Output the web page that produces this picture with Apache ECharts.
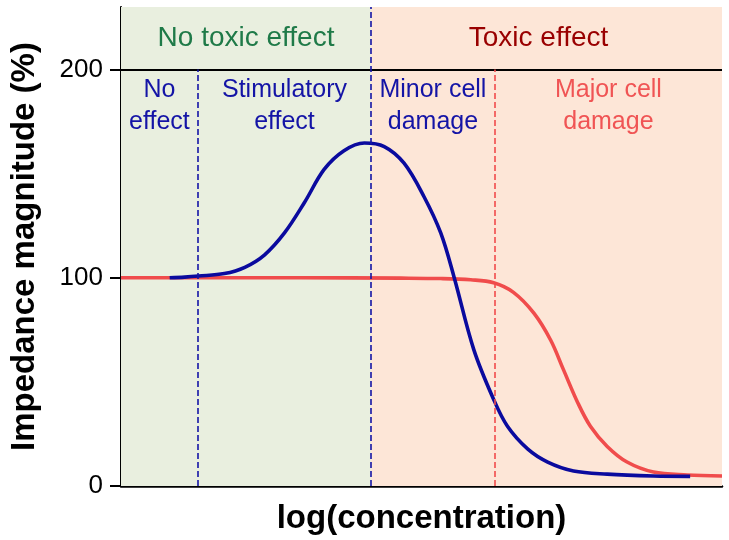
<!DOCTYPE html>
<html>
<head>
<meta charset="utf-8">
<script src="https://cdn.jsdelivr.net/npm/echarts@6/dist/echarts.min.js"></script>
<style>
html,body{margin:0;padding:0;background:#fff;}
#chart{width:729px;height:540px;}
</style>
</head>
<body>
<div id="chart"></div>
<script>
// log(concentration) in arbitrary units (0..10), impedance magnitude in %
var blueX = [0.81, 1.06, 1.29, 1.72, 2.06, 2.39, 2.72, 3.05, 3.38, 3.71, 4.05, 4.38, 4.71, 5.04, 5.32, 5.54, 5.87, 6.20, 6.43, 6.77, 7.10, 7.53, 8.09, 8.86, 9.47];
var blueY = [100, 100.3, 100.8, 102, 105, 111, 121.5, 136, 152, 161, 164.7, 163, 155, 139, 121.5, 100.5, 65.5, 41.6, 28.7, 17.7, 11.5, 7.2, 5.7, 4.8, 4.6];
var redX = [0, 1.34, 3.0, 4.66, 5.32, 5.82, 6.20, 6.53, 6.87, 7.15, 7.36, 7.60, 7.81, 8.09, 8.42, 8.86, 9.42, 10.0];
var redY = [100, 100, 100, 99.8, 99.6, 99, 97.6, 93, 83, 70, 56, 40, 28.7, 19, 11.5, 6.7, 5.3, 4.8];
var boundaries = [0, 1.28, 4.16, 6.22, 10];
var yTicks = [0, 100, 200];
var yMax = 230;
var xTitle = 'log(concentration)';
var yTitle = 'Impedance magnitude (%)';
var headerTexts = ['No toxic effect', 'Toxic effect'];
var subTexts = ['No\neffect', 'Stimulatory\neffect', 'Minor cell\ndamage', 'Major cell\ndamage'];
var headerY = 215;
var subY = 182.6;

var blueData = blueX.map(function (x, i) { return [x, blueY[i]]; });
var redData = redX.map(function (x, i) { return [x, redY[i]]; });

var FONT = '"Liberation Sans", Arial, sans-serif';
var navy = '#1414a6';
var red = '#f04c4c';

var headerColors = ['#1f7a48', '#990000'];
var subColors = [navy, navy, navy, '#f05454'];

var headerData = [
  { value: [(boundaries[0] + boundaries[2]) / 2, headerY], name: headerTexts[0], label: { color: headerColors[0] } },
  { value: [(boundaries[2] + boundaries[4]) / 2, headerY], name: headerTexts[1], label: { color: headerColors[1], offset: [-8, 0] } }
];
var subData = subTexts.map(function (t, i) {
  return { value: [(boundaries[i] + boundaries[i + 1]) / 2, subY], name: t, label: { color: subColors[i] } };
});

var chart = echarts.init(document.getElementById('chart'), null, { renderer: 'canvas' });
chart.setOption({
  animation: false,
  backgroundColor: '#ffffff',
  grid: { left: 119, right: 7, top: 7, bottom: 53, containLabel: false },
  xAxis: {
    type: 'value', min: boundaries[0], max: boundaries[4],
    axisLine: { show: true, onZero: false, lineStyle: { color: '#000', width: 2.5 } },
    axisTick: { show: false }, axisLabel: { show: false }, splitLine: { show: false },
    name: xTitle, nameLocation: 'middle', nameGap: 16,
    nameTextStyle: { fontFamily: FONT, fontWeight: 'bold', fontSize: 33, color: '#000' }
  },
  yAxis: {
    type: 'value', min: 0, max: yMax,
    axisLine: { show: true, onZero: false, lineStyle: { color: '#000', width: 2 } },
    axisTick: { show: true, length: 11, customValues: yTicks, lineStyle: { color: '#000', width: 2 } },
    axisLabel: { show: true, customValues: yTicks, margin: 18, fontFamily: FONT, fontSize: 26, color: '#000' },
    splitLine: { show: false },
    name: yTitle, nameLocation: 'middle', nameGap: 80,
    nameTextStyle: { fontFamily: FONT, fontWeight: 'bold', fontSize: 33, color: '#000' }
  },
  series: [
    {
      name: 'regions', type: 'line', data: [], z: 0, silent: true,
      markArea: {
        silent: true,
        label: { show: false },
        data: [
          [{ coord: [boundaries[0], 0], itemStyle: { color: '#e9efdf' } }, { coord: [boundaries[2], yMax] }],
          [{ coord: [boundaries[2], 0], itemStyle: { color: '#fde6d7' } }, { coord: [boundaries[4], yMax] }]
        ]
      },
      markLine: {
        silent: true, symbol: ['none', 'none'], label: { show: false },
        data: [
          [{ coord: [boundaries[0], 200], lineStyle: { color: '#000', width: 2, type: 'solid' } }, { coord: [boundaries[4], 200] }],
          [{ coord: [boundaries[1], 0], lineStyle: { color: navy, width: 1.6, type: [6, 3] } }, { coord: [boundaries[1], 200] }],
          [{ coord: [boundaries[2], 0], lineStyle: { color: navy, width: 1.6, type: [6, 3] } }, { coord: [boundaries[2], yMax] }],
          [{ coord: [boundaries[3], 0], lineStyle: { color: red, width: 1.6, type: [6, 3] } }, { coord: [boundaries[3], 200] }]
        ]
      }
    },
    {
      name: 'control', type: 'line', data: redData, smooth: 0.35,
      showSymbol: false, z: 3, lineStyle: { color: red, width: 3.6 }
    },
    {
      name: 'treated', type: 'line', data: blueData, smooth: 0.35,
      showSymbol: false, z: 4, lineStyle: { color: '#0a0a9e', width: 3.6 }
    },
    {
      name: 'headers', type: 'scatter', data: headerData, symbolSize: 0, z: 5, silent: true,
      itemStyle: { opacity: 1, color: 'rgba(0,0,0,0)' },
      label: { show: true, position: 'inside', formatter: '{b}', fontFamily: FONT, fontSize: 28, opacity: 1 }
    },
    {
      name: 'phases', type: 'scatter', data: subData, symbolSize: 0, z: 5, silent: true,
      itemStyle: { opacity: 1, color: 'rgba(0,0,0,0)' },
      label: { show: true, position: 'inside', formatter: '{b}', fontFamily: FONT, fontSize: 25, lineHeight: 32, align: 'center', opacity: 1 }
    }
  ]
});
</script>
</body>
</html>
